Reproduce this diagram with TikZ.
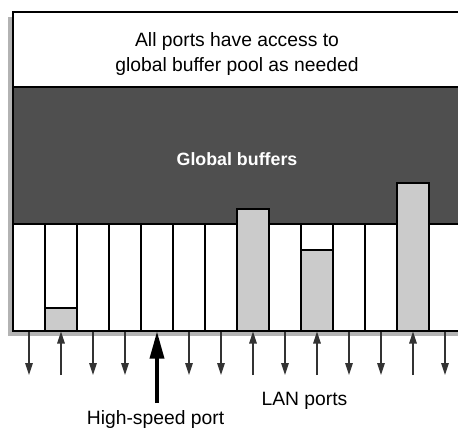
\documentclass[tikz,border=0pt]{standalone}
\usepackage{fontspec}
\setmainfont{Liberation Sans}
\usetikzlibrary{arrows.meta}
\definecolor{shadowgray}{HTML}{B3B3B3}
\definecolor{poolgray}{HTML}{4F4F4F}
\definecolor{bargray}{HTML}{CBCBCB}
\definecolor{arrowgray}{HTML}{333333}
\begin{document}
\begin{tikzpicture}[x=1pt,y=-1pt,
  frame/.style={draw=black,line width=1.4pt},
  divider/.style={draw=black,line width=1.2pt},
  usedbuf/.style={fill=bargray,draw=black,line width=1.2pt},
  portline/.style={draw=arrowgray,line width=1.2pt},
  outarrow/.style={portline,-{Triangle[length=12pt,width=7.5pt]}},
  inarrow/.style={portline,-{Triangle[length=12pt,width=7.5pt]}},
  fastarrow/.style={draw=black,line width=3.4pt,-{Triangle[length=27pt,width=14pt]}},
  label/.style={font=\fontsize{19.3}{23}\selectfont,anchor=base,inner sep=0pt},
  poollabel/.style={font=\bfseries\fontsize{17.8}{22}\selectfont,anchor=base,inner sep=0pt,text=white}]
\useasboundingbox (0,0) rectangle (458,429);
\clip (0,0) rectangle (458,429);

% drop shadow behind the switch box
\fill[shadowgray] (8,17) rectangle (466,336);

% switch box: header, shared pool, per-port columns
\fill[white] (13,12) rectangle (461,331);
\fill[poolgray] (13,87) rectangle (461,224);
\draw[divider] (13,87) -- (461,87);
\draw[divider] (13,224) -- (461,224);
\foreach \i in {1,...,13} {
  \draw[divider] ({13+32*\i},224) -- ({13+32*\i},331);
}

% buffer space currently used by some ports
\filldraw[usedbuf] (45,308) rectangle (77,331);
\filldraw[usedbuf] (237,209) rectangle (269,331);
\filldraw[usedbuf] (301,250) rectangle (333,331);
\filldraw[usedbuf] (397,183) rectangle (429,331);

\draw[frame] (13,12) rectangle (461,331);

% text
\node[label] (hdrA) at (237,46.7) {All ports have access to};
\node[label] (hdrB) at (237,71.5) {global buffer pool as needed};
\node[poollabel] (pool) at (237,165) {Global buffers};
\node[label] (lan) at (304.5,405) {LAN ports};
\node[label] (fast) at (155.5,424) {High-speed port};

% port connection points
\foreach \i in {1,...,14} {
  \coordinate (top\i) at ({29+32*(\i-1)},331.5);
  \coordinate (end\i) at ({29+32*(\i-1)},375);
}
\coordinate (fastend) at (157,403);

% traffic direction of each port
\foreach \i in {1,3,4,6,7,9,11,12,14} {
  \draw[outarrow] (top\i) -- (end\i);
}
\foreach \i in {2,8,10,13} {
  \draw[inarrow] (end\i) -- (top\i);
}
\draw[fastarrow] (fastend) -- (top5);
\end{tikzpicture}
\end{document}
